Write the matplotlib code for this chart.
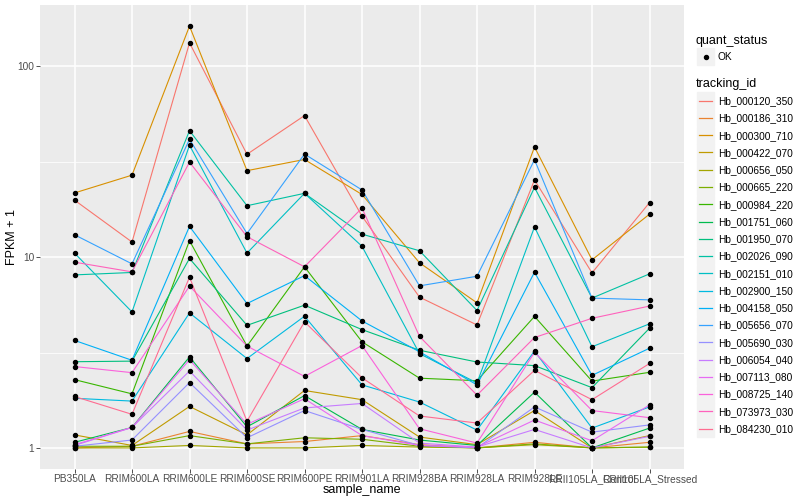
import numpy as np
import matplotlib
matplotlib.use("Agg")
from matplotlib import pyplot as plt
from matplotlib.patches import Rectangle

plt.rcParams['font.family'] = ['Liberation Sans', 'DejaVu Sans']

# categories on the x axis
samples = ["PB350LA", "RRIM600LA", "RRIM600LE", "RRIM600SE", "RRIM600PE",
           "RRIM901LA", "RRIM928BA", "RRIM928LA", "RRIM928LE",
           "RRII105LA_Control", "RRII105LA_Stressed"]

tracking_ids = ["Hb_000120_350", "Hb_000186_310", "Hb_000300_710", "Hb_000422_070",
                "Hb_000656_050", "Hb_000665_220", "Hb_000984_220", "Hb_001751_060",
                "Hb_001950_070", "Hb_002026_090", "Hb_002151_010", "Hb_002900_150",
                "Hb_004158_050", "Hb_005656_070", "Hb_005690_030", "Hb_006054_040",
                "Hb_007113_080", "Hb_008725_140", "Hb_073973_030", "Hb_084230_010"]

# ggplot hue palette, 20 levels
colors = ["#F8766D", "#EA8331", "#D89000", "#C09B00", "#A3A500", "#7CAE00",
          "#39B600", "#00BB4E", "#00BF7D", "#00C1A3", "#00BFC4", "#00BAE0",
          "#00B0F6", "#35A2FF", "#9590FF", "#C77CFF", "#E76BF3", "#FA62DB",
          "#FF62BC", "#FF6C91"]

# FPKM + 1 per gene, one value per sample
fpkm1 = {
    "Hb_000120_350": [19.9, 12.0, 132.8, 34.6, 55.2, 16.4, 6.17, 4.41, 25.4, 8.27, 19.3],
    "Hb_000186_310": [1.0, 1.02, 1.22, 1.05, 1.08, 1.16, 1.04, 1.0, 1.07, 1.0, 1.07],
    "Hb_000300_710": [21.7, 26.9, 162.6, 28.4, 32.5, 21.3, 9.34, 5.76, 37.8, 9.68, 16.8],
    "Hb_000422_070": [1.17, 1.03, 1.65, 1.17, 2.0, 1.79, 1.14, 1.04, 1.57, 1.0, 1.16],
    "Hb_000656_050": [1.0, 1.0, 1.03, 1.0, 1.0, 1.03, 1.01, 1.0, 1.04, 1.0, 1.01],
    "Hb_000665_220": [1.02, 1.02, 1.16, 1.05, 1.13, 1.11, 1.02, 1.0, 1.05, 1.0, 1.01],
    "Hb_000984_220": [2.28, 1.92, 12.2, 3.42, 8.9, 3.6, 2.32, 2.25, 4.89, 2.24, 2.49],
    "Hb_001751_060": [1.07, 1.28, 3.0, 1.29, 1.88, 1.25, 1.10, 1.03, 1.96, 1.0, 1.27],
    "Hb_001950_070": [2.83, 2.85, 9.84, 4.39, 5.6, 4.17, 3.25, 2.82, 2.70, 2.07, 4.24],
    "Hb_002026_090": [8.07, 8.31, 46.0, 18.6, 21.6, 13.2, 10.8, 5.25, 23.2, 6.1, 8.17],
    "Hb_002151_010": [10.5, 5.16, 38.6, 10.5, 21.6, 11.4, 3.12, 2.19, 14.4, 3.39, 4.47],
    "Hb_002900_150": [1.82, 1.76, 5.10, 2.94, 4.9, 2.14, 1.74, 1.24, 3.22, 1.27, 1.64],
    "Hb_004158_050": [3.66, 2.88, 14.5, 5.71, 8.0, 4.63, 3.19, 2.14, 8.34, 2.40, 3.33],
    "Hb_005656_070": [13.1, 9.22, 41.5, 13.3, 34.7, 22.5, 7.07, 7.94, 32.4, 6.1, 5.97],
    "Hb_005690_030": [1.02, 1.10, 2.2, 1.13, 1.57, 1.25, 1.03, 1.0, 1.64, 1.21, 1.32],
    "Hb_006054_040": [1.03, 1.28, 2.53, 1.24, 1.62, 1.71, 1.06, 1.01, 1.25, 1.0, 1.15],
    "Hb_007113_080": [1.04, 1.28, 2.9, 1.33, 1.81, 1.16, 1.03, 1.01, 1.40, 1.09, 1.68],
    "Hb_008725_140": [2.67, 2.48, 7.05, 3.42, 2.37, 3.44, 1.26, 1.06, 3.17, 1.57, 1.44],
    "Hb_073973_030": [9.41, 8.37, 31.5, 12.8, 8.9, 18.1, 3.84, 1.89, 3.79, 4.78, 5.54],
    "Hb_084230_010": [1.86, 1.50, 7.85, 1.38, 4.58, 2.33, 1.47, 1.35, 2.55, 1.79, 2.77],
}

W, H = 800, 500
fig = plt.figure(figsize=(8, 5), dpi=100)
fig.patch.set_facecolor("white")

# panel: px 40..684 horizontally, 5..469 vertically
ax = fig.add_axes([40 / W, 1 - 469 / H, (684 - 40) / W, (469 - 5) / H])
ax.set_facecolor("#EBEBEB")
for s in ax.spines.values():
    s.set_visible(False)

x = np.arange(len(samples))
for tid, col in zip(tracking_ids, colors):
    ax.plot(x, fpkm1[tid], color=col, lw=0.8, zorder=3)
for tid in tracking_ids:
    ax.plot(x, fpkm1[tid], ls="none", marker="o", ms=2.9, color="black", zorder=4)

ax.set_yscale("log")
allv = np.concatenate([fpkm1[t] for t in tracking_ids])
lo, hi = np.log10(allv.min()), np.log10(allv.max())
pad = 0.05 * (hi - lo)
ax.set_ylim(10 ** (lo - pad), 10 ** (hi + pad))
ax.set_xlim(-0.6, len(samples) - 0.4)

ax.set_yticks([1, 10, 100])
ax.set_yticklabels(["1", "10", "100"])
ax.yaxis.set_minor_locator(matplotlib.ticker.FixedLocator([10 ** 0.5, 10 ** 1.5]))
ax.yaxis.set_minor_formatter(matplotlib.ticker.NullFormatter())
ax.set_xticks(x)
ax.set_xticklabels(samples)

ax.grid(which="major", color="white", lw=1.1, zorder=0)
ax.grid(which="minor", axis="y", color="white", lw=0.55, zorder=0)
ax.set_axisbelow(True)
ax.tick_params(which="major", length=2.7, width=0.6, color="#333333",
               labelsize=7.3, labelcolor="#4D4D4D", pad=1.5)
ax.tick_params(axis="x", pad=1.0)
ax.tick_params(which="minor", length=0)

ax.set_xlabel("sample_name", fontsize=9)
ax.set_ylabel("FPKM + 1", fontsize=9)
ax.xaxis.set_label_coords(0.5, -(490 - 469) / (469 - 5))
ax.xaxis.label.set_va("center")
ax.yaxis.set_label_coords(-(40 - 12) / (684 - 40), 0.5)
ax.yaxis.label.set_va("center")

# legends drawn in pixel coordinates
lg = fig.add_axes([0, 0, 1, 1])
lg.set_xlim(0, W)
lg.set_ylim(H, 0)
lg.axis("off")

lg.text(696, 41, "quant_status", fontsize=9, va="center", ha="left")
lg.add_patch(Rectangle((697, 48), 17, 17, color="#F2F2F2"))
lg.plot([705.5], [56.5], marker="o", ms=2.9, color="black")
lg.text(718, 57, "OK", fontsize=7.3, va="center", ha="left")

lg.text(696, 84.5, "tracking_id", fontsize=9, va="center", ha="left")
step = 17.26
for i, (tid, col) in enumerate(zip(tracking_ids, colors)):
    cy = 100.7 + i * step
    lg.add_patch(Rectangle((697, cy - 8.4), 17, 16.8, color="#F2F2F2"))
    lg.plot([699, 712], [cy, cy], color=col, lw=0.9)
    lg.text(718, cy + 0.5, tid, fontsize=7.3, va="center", ha="left")

fig.savefig("out.png", dpi=100)
